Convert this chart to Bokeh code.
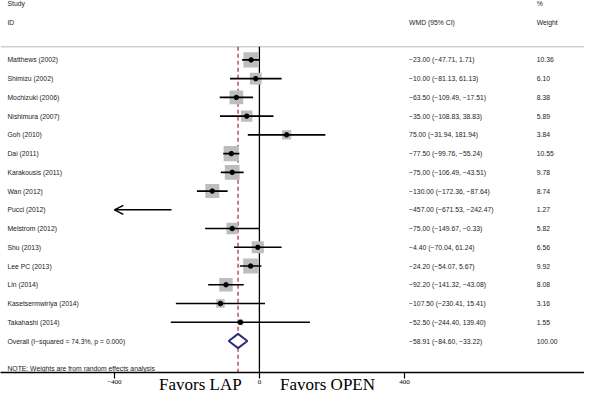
from bokeh.plotting import figure
from bokeh.models import (ColumnDataSource, Range1d, FixedTicker, Arrow, OpenHead,
                          LinearAxis)
from bokeh.core.properties import value
from bokeh.embed import file_html
from bokeh.resources import INLINE
import math

# ---------------- data ----------------
studies = ["Matthews (2002)", "Shimizu (2002)", "Mochizuki (2006)", "Nishimura (2007)",
           "Goh (2010)", "Dai (2011)", "Karakousis (2011)", "Wan (2012)", "Pucci (2012)",
           "Melstrom (2012)", "Shu (2013)", "Lee PC (2013)", "Lin (2014)",
           "Kasetsermwiriya (2014)", "Takahashi (2014)"]
wmd = [-23.00, -10.00, -63.50, -35.00, 75.00, -77.50, -75.00, -130.00, -457.00,
       -75.00, -4.40, -24.20, -92.20, -107.50, -52.50]
ci_lo = [-47.71, -81.13, -109.49, -108.83, -31.94, -99.76, -106.49, -172.36, -671.53,
         -149.67, -70.04, -54.07, -141.32, -230.41, -244.40]
ci_hi = [1.71, 61.13, -17.51, 38.83, 181.94, -55.24, -43.51, -87.64, -242.47,
         -0.33, 61.24, 5.67, -43.08, 15.41, 139.40]
weights = [10.36, 6.10, 8.38, 5.89, 3.84, 10.55, 9.78, 8.74, 1.27, 5.82, 6.56, 9.92,
           8.08, 3.16, 1.55]
overall_label = "Overall  (I\u2212squared = 74.3%, p = 0.000)"
overall_wmd = -58.91
overall_lo = -84.60
overall_hi = -33.22
overall_weight = 100.00
axis_ticks = [-400, 0, 400]
axis_min = -400
favors_left = "Favors LAP"
favors_right = "Favors OPEN"
note_text = "NOTE: Weights are from random effects analysis"

# ---------------- layout constants ----------------
W, H = 584, 396
X0, X1 = -714.2, 896.8
Y_BOTTOM, Y_TOP = 16.68, -3.17
COL_ID, COL_WMD, COL_W = -695, 413, 765
FAV_L, FAV_R = -163, 188
FONT = "Liberation Sans"
FS = "6.8px"


def fmt(v):
    return f"{v:.2f}".replace("-", "\u2212")


n = len(studies)
rows = list(range(n))
ci_text = [f"{fmt(w)} ({fmt(l)}, {fmt(h)})" for w, l, h in zip(wmd, ci_lo, ci_hi)]
wt_text = [f"{w:.2f}" for w in weights]

p = figure(width=W, height=H, output_backend="svg", toolbar_location=None,
           x_range=Range1d(X0, X1), y_range=Range1d(Y_BOTTOM, Y_TOP),
           min_border_left=0, min_border_right=0, min_border_top=0,
           min_border_bottom=23)
p.outline_line_color = None
p.grid.visible = False
p.yaxis.visible = False
p.background_fill_color = "white"
p.border_fill_color = "white"

xa = p.xaxis[0]
xa.ticker = FixedTicker(ticks=axis_ticks)
xa.minor_tick_line_color = None
xa.major_tick_out = 6
xa.major_tick_in = 0
xa.major_tick_line_width = 1.2
xa.axis_line_width = 1.5
xa.axis_line_color = "black"
xa.major_label_standoff = 1
xa.major_label_text_font = "Liberation Serif"
xa.major_label_text_font_size = "7px"
xa.major_label_text_color = "black"

fav = LinearAxis(ticker=FixedTicker(ticks=[FAV_L, FAV_R]),
                 major_label_overrides={FAV_L: favors_left, FAV_R: favors_right},
                 axis_line_color=None, major_tick_line_color=None,
                 minor_tick_line_color=None, major_tick_out=0, major_tick_in=0,
                 major_label_standoff=-12,
                 major_label_text_font="Liberation Serif",
                 major_label_text_font_size="17px", major_label_text_color="black")
p.add_layout(fav, "below")

# header separator
p.segment(x0=[X0], x1=[X1], y0=[-0.7], y1=[-0.7], line_color="#cfcfcf", line_width=1.5)

# reference lines
p.segment(x0=[0], x1=[0], y0=[-0.7], y1=[Y_BOTTOM], line_color="black", line_width=1.3)
p.segment(x0=[overall_wmd], x1=[overall_wmd], y0=[-0.7], y1=[Y_BOTTOM],
          line_color="#b5525a", line_width=1.5, line_dash="4 3")

# visible studies
vis = [i for i in rows if ci_lo[i] >= axis_min]
src = ColumnDataSource(dict(
    y=[i for i in vis],
    est=[wmd[i] for i in vis],
    lo=[ci_lo[i] for i in vis],
    hi=[ci_hi[i] for i in vis],
    size=[4.73 * math.sqrt(weights[i]) for i in vis],
))
p.scatter(x="est", y="y", size="size", marker="square", source=src,
          fill_color="#bdbdbd", line_color=None)
p.segment(x0="lo", x1="hi", y0="y", y1="y", source=src, line_color="black", line_width=1.6)
p.scatter(x="est", y="y", size=4.5, marker="circle", source=src,
          fill_color="black", line_color="black")

# off-scale studies: arrow
for i in rows:
    if ci_lo[i] < axis_min:
        p.add_layout(Arrow(end=OpenHead(size=9, line_width=1.5, line_color="black"),
                           x_start=ci_hi[i], y_start=i, x_end=axis_min, y_end=i,
                           line_width=1.5, line_color="black"))

# overall diamond
oy = n
hh = 0.38
p.patch(x=[overall_lo, overall_wmd, overall_hi, overall_wmd, overall_lo],
        y=[oy, oy - hh, oy, oy + hh, oy], fill_color="white",
        line_color="#2e2e7a", line_width=2)

# texts
txt = dict(text_font=value(FONT), text_font_size=value(FS), text_baseline="middle",
           text_align="left", text_color="#222222")
p.text(x=[COL_ID] * n, y=rows, text=studies, **txt)
p.text(x=[COL_WMD] * n, y=rows, text=ci_text, **txt)
p.text(x=[COL_W] * n, y=rows, text=wt_text, **txt)
p.text(x=[COL_ID, COL_WMD, COL_W], y=[oy] * 3,
       text=[overall_label,
             f"{fmt(overall_wmd)} ({fmt(overall_lo)}, {fmt(overall_hi)})",
             f"{overall_weight:.2f}"], **txt)
p.text(x=[COL_ID, COL_ID, COL_WMD, COL_W, COL_W], y=[-3, -2, -2, -3, -2],
       text=["Study", "ID", "WMD (95% CI)", "%", "Weight"], **txt)
p.text(x=[COL_ID], y=[16.45], text=[note_text], **txt)

open("out.html", "w").write(file_html(p, INLINE))
